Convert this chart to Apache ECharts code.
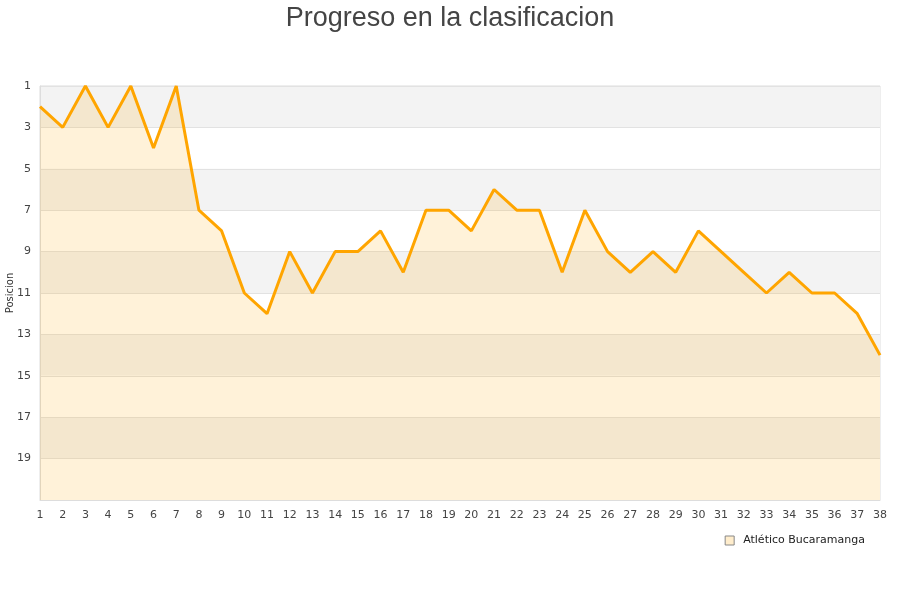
<!DOCTYPE html>
<html>
<head>
<meta charset="utf-8">
<script src="https://cdn.jsdelivr.net/npm/echarts@6/dist/echarts.min.js"></script>
<style>
    html, body { margin: 0; padding: 0; background: #fff; }
    #grafico { width: 900px; height: 600px; }
</style>
</head>
<body>
<div id="grafico"></div>
<script>
// jornadas y posicion del equipo
const jornadas = Array.from({ length: 38 }, (_, i) => String(i + 1))
const posiciones = [2, 3, 1, 3, 1, 4, 1, 7, 8, 11, 12, 9, 11, 9, 9, 8, 10, 7, 7, 8,
    6, 7, 7, 10, 7, 9, 10, 9, 10, 8, 9, 10, 11, 10, 11, 11, 12, 14]
const ticksY = [1, 3, 5, 7, 9, 11, 13, 15, 17, 19, 21]
const etiquetasY = [1, 3, 5, 7, 9, 11, 13, 15, 17, 19]
const equipo = 'Atlético Bucaramanga'

const fuente = 'DejaVu Sans'

const myChart = echarts.init(document.getElementById('grafico'), null, { renderer: 'canvas' })

const option = {
    animation: false,
    title: {
        text: 'Progreso en la clasificacion',
        left: 'center',
        top: 0,
        textStyle: {
            fontFamily: 'Liberation Sans',
            fontSize: 27,
            fontWeight: 'normal',
            color: '#444'
        }
    },
    grid: {
        left: 40,
        right: 20,
        top: 86,
        bottom: 100,
        containLabel: false,
        outerBoundsMode: 'none',
        show: true,
        borderColor: '#ddd',
        borderWidth: 1,
        backgroundColor: 'transparent'
    },
    legend: {
        data: [equipo],
        right: 30,
        top: 530,
        icon: 'rect',
        itemWidth: 9,
        itemHeight: 9,
        itemStyle: {
            color: '#ffedcc',
            borderColor: '#888',
            borderWidth: 1
        },
        textStyle: { fontFamily: fuente, fontSize: 11, color: '#222', padding: [0, 0, 0, 4] }
    },
    xAxis: {
        type: 'category',
        data: jornadas,
        boundaryGap: false,
        axisLine: { show: true, lineStyle: { color: '#ddd' } },
        axisTick: { show: false },
        axisLabel: {
            interval: 0,
            fontFamily: fuente,
            fontSize: 11,
            color: '#444',
            margin: 10
        },
        splitLine: { show: false }
    },
    yAxis: {
        type: 'value',
        inverse: true,
        min: 1,
        max: 21,
        name: 'Posicion',
        nameLocation: 'middle',
        nameGap: 25,
        nameMoveOverlap: false,
        nameTextStyle: { fontFamily: fuente, fontSize: 10, color: '#333' },
        axisLine: { show: true, lineStyle: { color: '#ddd' } },
        axisTick: { show: false, customValues: ticksY },
        axisLabel: {
            customValues: etiquetasY,
            fontFamily: fuente,
            fontSize: 11,
            color: '#444',
            margin: 9
        },
        splitLine: { show: true, lineStyle: { color: '#e2e2e2' } },
        splitArea: { show: true, areaStyle: { color: ['#f3f3f3', '#ffffff'] } }
    },
    series: [{
        name: equipo,
        type: 'line',
        data: posiciones,
        symbol: 'none',
        lineStyle: { color: '#ffa500', width: 3 },
        itemStyle: { color: '#ffa500' },
        areaStyle: { color: 'rgba(255,165,0,0.21)', origin: 'end' }
    }]
}

myChart.setOption(option)
</script>
</body>
</html>
